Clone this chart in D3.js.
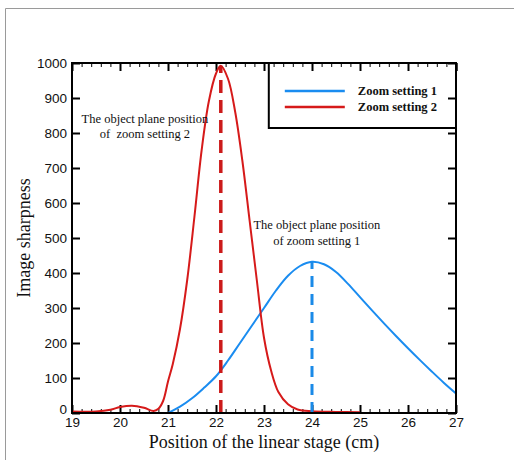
<!DOCTYPE html>
<html>
<head>
<meta charset="utf-8">
<script src="https://cdn.jsdelivr.net/npm/d3@7"></script>
<style>
    body { margin: 0; background: #fff; }
</style>
</head>
<body>
<div id="chart"></div>
<script>
// zoom setting 1 (blue)
var pos1 = [21, 21.25, 21.5, 21.75, 22, 22.25, 22.5, 22.75, 23, 23.25, 23.5, 23.75, 24, 24.25, 24.5, 24.75, 25, 25.25, 25.5, 25.75, 26, 26.25, 26.5, 26.75, 27];
var sharp1 = [0, 18, 42, 72, 105, 150, 200, 250, 300, 350, 392, 420, 432, 425, 403, 369, 331, 293, 256, 220, 185, 151, 118, 86, 56];

// zoom setting 2 (red)
var pos2 = [19, 19.5, 19.8, 20, 20.25, 20.5, 20.7, 20.8, 20.9, 21, 21.1, 21.25, 21.4, 21.55, 21.7, 21.85, 22, 22.1, 22.25, 22.4, 22.55, 22.7, 22.85, 23, 23.15, 23.3, 23.5, 23.7, 24, 24.5, 25];
var sharp2 = [4, 4, 9, 17, 21, 15, 6, 12, 35, 90, 140, 240, 380, 560, 750, 890, 970, 992, 955, 860, 720, 550, 380, 215, 120, 60, 25, 10, 5, 3, 2];

var peak1 = 24, peak2 = 22.1;

var xTicks = [19, 20, 21, 22, 23, 24, 25, 26, 27];
var yTicks = [0, 100, 200, 300, 400, 500, 600, 700, 800, 900, 1000];

var seriesNames = ["Zoom setting 1", "Zoom setting 2"];
var colors = ["#1a8cf0", "#d61a1a"];

var margin = {
        top: 63,
        right: 58,
        bottom: 47,
        left: 72
    },
    fullW = 514,
    fullH = 460,
    width = fullW - margin.left - margin.right,
    height = fullH - margin.top - margin.bottom;

var root = d3.select("#chart")
    .append("svg")
    .attr("width", fullW)
    .attr("height", fullH);

// light frame of the figure
root.append("path")
    .attr("d", "M5.5,460 L5.5,8.5 L514,8.5")
    .attr("fill", "none")
    .attr("stroke", "#9a9a9a")
    .attr("stroke-width", 1);

var svg = root.append("g")
    .attr("transform", "translate(" + margin.left + "," + margin.top + ")");

var x = d3.scaleLinear()
    .domain([19, 27])
    .range([0, width]);

var y = d3.scaleLinear()
    .domain([0, 1000])
    .range([height, 0]);

var minorX = d3.range(19, 27.001, 0.2).filter(function (v) {
    return Math.abs(v - Math.round(v)) > 0.01;
});

function styleAxis(g) {
    g.select(".domain").remove();
    g.selectAll("line").attr("stroke", "#000").attr("stroke-width", 2);
    g.selectAll("text")
        .style("font-family", "'Liberation Sans', Arial, sans-serif")
        .style("font-size", "13.5px")
        .attr("fill", "#111");
}

// bottom axis
svg.append("g")
    .attr("transform", "translate(0," + height + ")")
    .call(d3.axisBottom(x).tickValues(xTicks).tickSize(-8).tickPadding(4).tickFormat(d3.format("d")))
    .call(styleAxis);

svg.append("g")
    .attr("transform", "translate(0," + height + ")")
    .call(d3.axisBottom(x).tickValues(minorX).tickSize(-4).tickFormat(""))
    .call(styleAxis)
    .selectAll("line").attr("stroke-width", 1);

// top axis
svg.append("g")
    .call(d3.axisTop(x).tickValues(xTicks).tickSize(-8).tickFormat(""))
    .call(styleAxis);

svg.append("g")
    .call(d3.axisTop(x).tickValues(minorX).tickSize(-4).tickFormat(""))
    .call(styleAxis)
    .selectAll("line").attr("stroke-width", 1);

// left axis
svg.append("g")
    .call(d3.axisLeft(y).tickValues(yTicks).tickSize(-8).tickPadding(5).tickFormat(d3.format("d")))
    .call(styleAxis)
    .selectAll("text")
    .filter(function (d) { return d === 0; })
    .attr("dy", "0.05em");

// right axis
svg.append("g")
    .attr("transform", "translate(" + width + ",0)")
    .call(d3.axisRight(y).tickValues(yTicks).tickSize(-8).tickFormat(""))
    .call(styleAxis);

// curves
var line = d3.line()
    .x(function (d) { return x(d[0]); })
    .y(function (d) { return y(d[1]); })
    .curve(d3.curveCatmullRom.alpha(0.5));

svg.append("path")
    .datum(d3.zip(pos1, sharp1))
    .attr("d", line)
    .attr("fill", "none")
    .attr("stroke", colors[0])
    .attr("stroke-width", 2);

svg.append("path")
    .datum(d3.zip(pos2, sharp2))
    .attr("d", line)
    .attr("fill", "none")
    .attr("stroke", colors[1])
    .attr("stroke-width", 2);

// dashed lines at the peaks
svg.append("line")
    .attr("x1", x(peak2)).attr("x2", x(peak2))
    .attr("y1", y(0)).attr("y2", y(d3.max(sharp2)))
    .attr("stroke", "#cc1a1a")
    .attr("stroke-width", 3.5)
    .attr("stroke-dasharray", "13,7");

svg.append("line")
    .attr("x1", x(peak1)).attr("x2", x(peak1))
    .attr("y1", y(0)).attr("y2", y(d3.max(sharp1)))
    .attr("stroke", "#1a8ae8")
    .attr("stroke-width", 3)
    .attr("stroke-dasharray", "11,7");

// annotations
var notes = [
    { x: 20.52, y: 830, lines: ["The object plane position", "of  zoom setting 2"] },
    { x: 24.1, y: 525, lines: ["The object plane position", "of zoom setting 1"] }
];

notes.forEach(function (n) {
    var t = svg.append("text")
        .attr("x", x(n.x))
        .attr("y", y(n.y))
        .attr("text-anchor", "middle")
        .style("font-family", "'Liberation Serif', 'Times New Roman', serif")
        .style("font-size", "12.5px")
        .attr("fill", "#111")
        .style("white-space", "pre");
    n.lines.forEach(function (s, i) {
        t.append("tspan")
            .attr("x", x(n.x))
            .attr("dy", i === 0 ? 0 : "1.25em")
            .text(s);
    });
});

// legend
var lg = svg.append("g")
    .attr("transform", "translate(" + (x(23.1)) + ",0)");

var lgW = width - x(23.1), lgH = 65;

lg.append("rect")
    .attr("width", lgW)
    .attr("height", lgH)
    .attr("fill", "#fff")
    .attr("stroke", "#000")
    .attr("stroke-width", 2);

// redraw top ticks over the legend box
svg.append("g")
    .call(d3.axisTop(x).tickValues(xTicks.filter(function (v) { return v > 23.1; })).tickSize(-8).tickFormat(""))
    .call(styleAxis);
svg.append("g")
    .call(d3.axisTop(x).tickValues(minorX.filter(function (v) { return v > 23.1; })).tickSize(-4).tickFormat(""))
    .call(styleAxis)
    .selectAll("line").attr("stroke-width", 1);
svg.append("g")
    .attr("transform", "translate(" + width + ",0)")
    .call(d3.axisRight(y).tickValues([900, 1000]).tickSize(-8).tickFormat(""))
    .call(styleAxis);

seriesNames.forEach(function (name, i) {
    var yy = 28 + i * 16;
    lg.append("line")
        .attr("x1", 16).attr("x2", 76)
        .attr("y1", yy).attr("y2", yy)
        .attr("stroke", colors[i])
        .attr("stroke-width", 2.5);
    lg.append("text")
        .attr("x", 89)
        .attr("y", yy + 4)
        .style("font-family", "'Liberation Serif', 'Times New Roman', serif")
        .style("font-size", "12.5px")
        .style("font-weight", "bold")
        .attr("fill", "#111")
        .text(name);
});

// frame of the plot
svg.append("rect")
    .attr("width", width)
    .attr("height", height)
    .attr("fill", "none")
    .attr("stroke", "#000")
    .attr("stroke-width", 2);

// axis titles
svg.append("text")
    .attr("x", width / 2)
    .attr("y", height + 35)
    .attr("text-anchor", "middle")
    .style("font-family", "'Liberation Serif', 'Times New Roman', serif")
    .style("font-size", "18px")
    .attr("fill", "#111")
    .text("Position of the linear stage (cm)");

svg.append("text")
    .attr("transform", "translate(" + (-42) + "," + (height / 2) + ") rotate(-90)")
    .attr("text-anchor", "middle")
    .style("font-family", "'Liberation Serif', 'Times New Roman', serif")
    .style("font-size", "18px")
    .attr("fill", "#111")
    .text("Image sharpness");
</script>
</body>
</html>
